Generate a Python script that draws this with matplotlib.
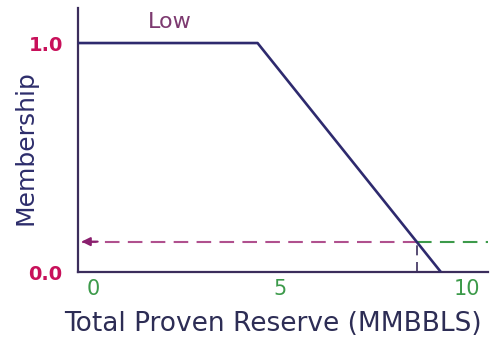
import numpy as np
import matplotlib
matplotlib.use("Agg")
import matplotlib.pyplot as plt

# Membership function "Low" for total proven reserve
low_x = [-0.4, 4.4, 9.3]
low_mu = [1.0, 1.0, 0.0]
x_ticks = [0, 5, 10]
x_tick_labels = ["0", "5", "10"]
y_ticks = [0.0, 1.0]
y_tick_labels = ["0.0", "1.0"]
input_reserve = 8.65
input_membership = float(np.interp(input_reserve, low_x, low_mu))

axis_col = "#3b2d5c"
line_col = "#2e2a6e"
pink = "#b0508e"
green = "#3c9a4a"

fig = plt.figure(figsize=(4.9, 3.47), dpi=100)
ax = fig.add_axes([78 / 490, 1 - 272 / 347, 410 / 490, 264 / 347])
ax.set_xlim(-0.4, 10.56)
ax.set_ylim(0, 1.153)

ax.plot(low_x, low_mu, color=line_col, lw=1.9, solid_capstyle="butt", zorder=3)

# projected input value
ax.plot([input_reserve, input_reserve], [0, input_membership], color=axis_col,
        lw=1.2, ls=(0, (6, 4)), zorder=2)
ax.plot([input_reserve, 10.56], [input_membership, input_membership], color=green,
        lw=1.5, ls=(0, (7, 4)), zorder=2)
ax.plot([-0.3, input_reserve], [input_membership, input_membership], color=pink,
        lw=1.5, ls=(0, (7, 4)), zorder=2)
ax.annotate("", xy=(-0.38, input_membership), xytext=(0.2, input_membership),
            arrowprops=dict(arrowstyle="-|>,head_length=0.5,head_width=0.25",
                            color="#8a1f6e", lw=1.5), zorder=4)

for s in ["top", "right"]:
    ax.spines[s].set_visible(False)
for s in ["left", "bottom"]:
    ax.spines[s].set_color(axis_col)
    ax.spines[s].set_linewidth(1.6)

ax.set_xticks(x_ticks)
ax.set_xticklabels(x_tick_labels, color=green, fontsize=15)
ax.set_yticks(y_ticks)
ax.set_yticklabels(y_tick_labels, color="#c8105a", fontsize=14, fontweight="bold")
ax.tick_params(length=0)
ax.tick_params(axis="x", pad=5)
ax.tick_params(axis="y", pad=11)

ax.set_xlabel("Total Proven Reserve (MMBBLS)", color="#2d2d55", fontsize=19, va="center")
ax.xaxis.set_label_coords(0.476, -0.197)
ax.set_ylabel("Membership", color="#2d2d6b", fontsize=18, va="center")
ax.yaxis.set_label_coords(-0.127, 0.47)

ax.text(2.05, 1.09, "Low", color="#7d3a70", fontsize=16, ha="center", va="center")

fig.savefig("out.png", dpi=100, facecolor="white")
